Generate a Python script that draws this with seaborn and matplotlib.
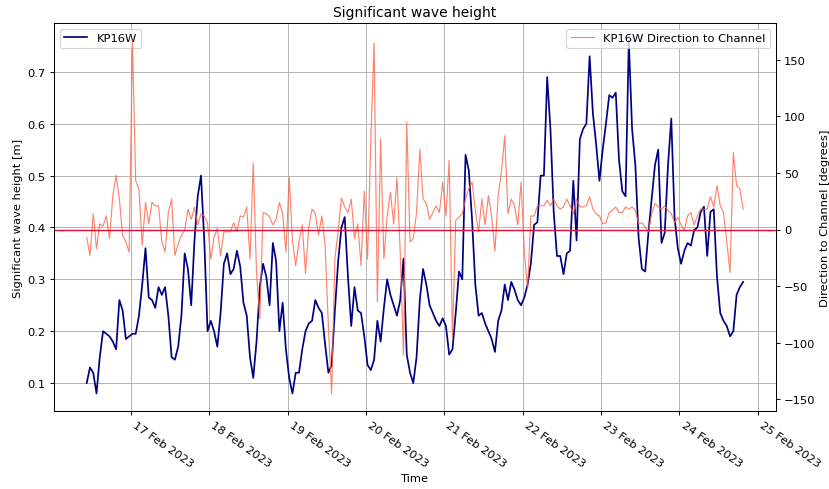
import matplotlib
matplotlib.use("Agg")
import matplotlib.pyplot as plt
import matplotlib.dates as mdates
import numpy as np
import pandas as pd
import seaborn as sns

# Hourly record, 16 Feb 2023 10:30 to 24 Feb 2023 19:30
start_time = "2023-02-16 10:30"
n_hours = 202

wave_height = [
    0.10, 0.13, 0.12, 0.08, 0.15, 0.20, 0.195, 0.19, 0.18, 0.165,
    0.26, 0.24, 0.185, 0.19, 0.195, 0.195, 0.23, 0.29, 0.36, 0.265,
    0.26, 0.245, 0.285, 0.27, 0.285, 0.23, 0.15, 0.145, 0.17, 0.23,
    0.35, 0.32, 0.25, 0.375, 0.46, 0.50, 0.375, 0.20, 0.22, 0.20,
    0.17, 0.235, 0.33, 0.35, 0.31, 0.32, 0.355, 0.325, 0.255, 0.23,
    0.15, 0.11, 0.18, 0.285, 0.33, 0.305, 0.25, 0.37, 0.335, 0.20,
    0.255, 0.165, 0.11, 0.08, 0.12, 0.12, 0.165, 0.20, 0.215, 0.22,
    0.26, 0.245, 0.235, 0.175, 0.12, 0.135, 0.24, 0.335, 0.40, 0.42,
    0.305, 0.21, 0.285, 0.24, 0.235, 0.19, 0.135, 0.125, 0.145, 0.22,
    0.18, 0.245, 0.30, 0.27, 0.25, 0.23, 0.26, 0.34, 0.155, 0.12,
    0.10, 0.15, 0.26, 0.32, 0.29, 0.25, 0.235, 0.22, 0.21, 0.225,
    0.21, 0.155, 0.165, 0.235, 0.315, 0.30, 0.54, 0.51, 0.415, 0.29,
    0.23, 0.235, 0.215, 0.20, 0.185, 0.16, 0.22, 0.24, 0.29, 0.26,
    0.295, 0.28, 0.26, 0.25, 0.265, 0.29, 0.33, 0.405, 0.41, 0.50,
    0.50, 0.69, 0.59, 0.43, 0.345, 0.345, 0.31, 0.35, 0.355, 0.49,
    0.375, 0.57, 0.59, 0.60, 0.73, 0.62, 0.56, 0.49, 0.55, 0.60,
    0.655, 0.65, 0.66, 0.53, 0.47, 0.46, 0.76, 0.59, 0.52, 0.38,
    0.32, 0.315, 0.39, 0.455, 0.52, 0.55, 0.37, 0.39, 0.52, 0.61,
    0.42, 0.36, 0.33, 0.355, 0.37, 0.365, 0.395, 0.40, 0.43, 0.44,
    0.345, 0.43, 0.435, 0.305, 0.235, 0.22, 0.21, 0.19, 0.20, 0.27,
    0.285, 0.295,
]

direction_to_channel = [
    -7, -23, 14, -17, 5, 3, 12, -8, 30, 48,
    27, -5, -11, -20, 167, 43, 36, -14, 24, 5,
    24, 21, 21, -11, -20, 15, 27, -23, -13, -5,
    -1, 18, 9, 20, 4, 14, 12, 6, -26, -7,
    1, -23, -2, -2, -2, 6, -2, 12, 11, 20,
    -26, 59, -38, -79, 15, 14, 11, 4, 9, 24,
    14, -20, 46, -10, -32, -11, 4, -39, 2, 18,
    14, -5, 12, -14, -85, -145, -26, -1, 28, 20,
    15, 27, -8, 5, -32, 34, -26, 80, 165, -64,
    80, -26, 12, 33, 5, 46, -20, -111, 95, -11,
    -8, 15, 71, 27, 23, 9, 15, 21, 15, 42,
    12, 61, -96, 8, 11, 14, 27, 36, 42, 17,
    -2, 27, 4, 30, 12, -19, 30, 51, 83, 14,
    27, 21, 4, 42, -20, -52, 12, 12, 21, 21,
    21, 26, 21, 27, 21, 18, 20, 27, 21, 14,
    27, 20, 20, 21, 29, 18, 14, 12, 5, 6,
    15, 17, 20, 15, 15, 20, 18, 20, 17, 5,
    6, 2, -2, 14, 23, 20, 18, 21, 17, 14,
    6, 11, 4, -1, 12, 15, 4, 12, 18, 18,
    18, 29, 20, 39, 21, 15, -11, -38, 68, 39,
    36, 18,
]

left_ticks = [0.1, 0.2, 0.3, 0.4, 0.5, 0.6, 0.7]
right_ticks = [-150, -100, -50, 0, 50, 100, 150]

times = pd.date_range(start_time, periods=n_hours, freq="h")
df = pd.DataFrame({
    "Time": times,
    "height": wave_height,
    "direction": direction_to_channel,
})

fig = plt.figure(figsize=(10, 5.91), dpi=82.9)
ax1 = fig.add_subplot(111)
fig.subplots_adjust(left=0.065, right=0.936, bottom=0.159, top=0.951)

sns.lineplot(data=df, x="Time", y="height", ax=ax1, color="navy",
             linewidth=1.5, label="KP16W")
ax1.set_ylabel("Significant wave height [m]")
ax1.set_xlabel("Time")
ax1.set_yticks(left_ticks)
ax1.grid(True, color="#b0b0b0", linewidth=0.8)
ax1.legend(loc="upper left")

ax2 = ax1.twinx()
sns.lineplot(data=df, x="Time", y="direction", ax=ax2, color="tomato",
             alpha=0.8, linewidth=1.0, label="KP16W Direction to Channel")
ax2.axhline(0, color="crimson", linewidth=1.3)
ax2.set_ylabel("Direction to Channel [degrees]")
ax2.set_yticks(right_ticks)
ax2.legend(loc="upper right")

ax1.xaxis.set_major_locator(mdates.DayLocator())
ax1.xaxis.set_major_formatter(mdates.DateFormatter("%d %b %Y"))
for lbl in ax1.get_xticklabels():
    lbl.set_rotation(-35)
    lbl.set_horizontalalignment("left")

ax1.set_title("Significant wave height")

fig.savefig("out.png", dpi=82.9)
